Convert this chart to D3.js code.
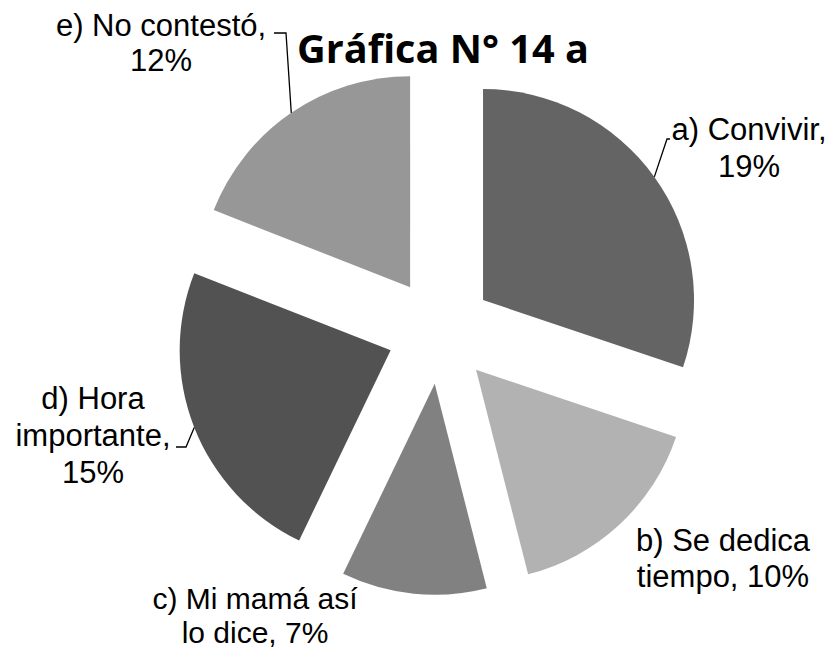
<!DOCTYPE html>
<html>
<head>
<meta charset="utf-8">
<script src="https://cdn.jsdelivr.net/npm/d3@7/dist/d3.min.js"></script>
<style>
  html, body { margin: 0; padding: 0; background: #fff; }
  svg { display: block; }
</style>
</head>
<body>
<svg id="chart" width="832" height="650"></svg>
<script>
// data
const categories = ['a', 'b', 'c', 'd', 'e'];
const values = [19, 10, 7, 15, 12];
const labelLines = [
  ['a) Convivir,', '19%'],
  ['b) Se dedica', 'tiempo, 10%'],
  ['c) Mi mamá así', 'lo dice, 7%'],
  ['d) Hora', 'importante,', '15%'],
  ['e) No contestó,', '12%']
];
const shades = ['#646464', '#b2b2b2', '#818181', '#525252', '#979797'];
const titleText = 'Gráfica N° 14 a';

// layout
const cx = 440, cy = 331;
const radius = 211;
const explode = 53;

// label anchors (centre x, first baseline, line step, size) and leader bends
const labelLayout = [
  { x: 749, y: 140, step: 37, size: 31, leader: [[667, 139], [670, 139]] },
  { x: 723, y: 551, step: 36, size: 31, leader: null },
  { x: 255, y: 609, step: 33.5, size: 30, leader: null },
  { x: 93, y: 409, step: 37, size: 31, leader: [[186, 447], [176, 447]] },
  { x: 161, y: 36, step: 35, size: 31, leader: [[286, 33], [274, 33]] }
];

const svg = d3.select('#chart');

const pie = d3.pie().sort(null).value(d => d);
const arcs = pie(values);
const arc = d3.arc().innerRadius(0).outerRadius(radius);

const unit = a => [Math.sin(a), -Math.cos(a)];

const g = svg.append('g').attr('transform', `translate(${cx},${cy})`);

g.selectAll('path.slice')
  .data(arcs)
  .enter().append('path')
  .attr('class', 'slice')
  .attr('d', arc)
  .attr('fill', (d, i) => shades[i])
  .attr('transform', d => {
    const m = (d.startAngle + d.endAngle) / 2;
    const [ux, uy] = unit(m);
    return `translate(${ux * explode},${uy * explode})`;
  });

// leader lines from the middle of each outer arc
arcs.forEach((d, i) => {
  const lay = labelLayout[i];
  if (!lay.leader) return;
  const m = (d.startAngle + d.endAngle) / 2;
  const [ux, uy] = unit(m);
  const start = [cx + ux * (explode + radius), cy + uy * (explode + radius)];
  svg.append('path')
    .attr('d', d3.line()([start, ...lay.leader]))
    .attr('fill', 'none')
    .attr('stroke', '#000')
    .attr('stroke-width', 1.3);
});

// slice labels
labelLines.forEach((lines, i) => {
  const lay = labelLayout[i];
  const t = svg.append('text')
    .attr('text-anchor', 'middle')
    .attr('font-family', '"Liberation Sans", Arial, sans-serif')
    .attr('font-size', lay.size)
    .attr('fill', '#000');
  lines.forEach((s, k) => {
    t.append('tspan')
      .attr('x', lay.x)
      .attr('y', lay.y + k * lay.step)
      .text(s);
  });
});

// title, sized to the reference width
const title = svg.append('text')
  .attr('x', 297)
  .attr('y', 63)
  .attr('font-family', '"Open Sans", Lato, sans-serif')
  .attr('font-weight', 700)
  .attr('font-size', 100)
  .attr('fill', '#000')
  .text(titleText);
const w = title.node().getComputedTextLength();
title.attr('font-size', 100 * 292 / w);
</script>
</body>
</html>
